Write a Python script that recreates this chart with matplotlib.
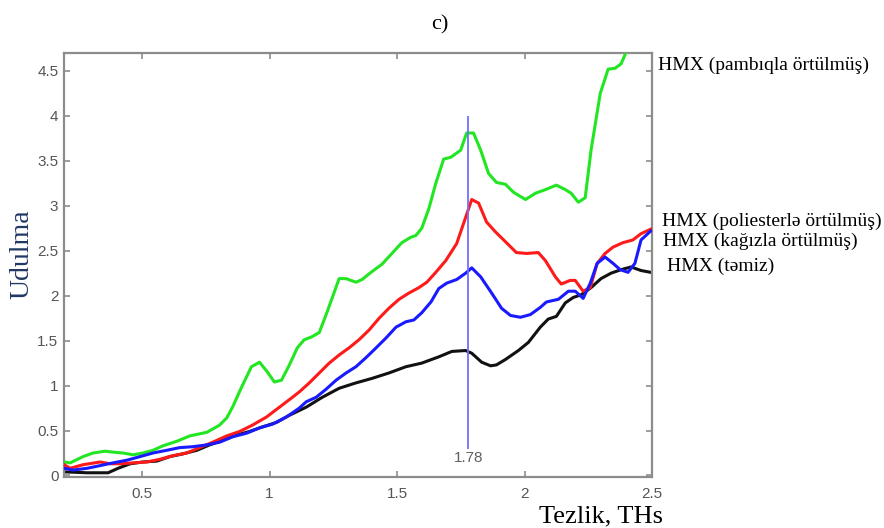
import matplotlib
matplotlib.use("Agg")
import matplotlib.pyplot as plt
import numpy as np

# ---------------- data ----------------
x_cotton = [0.195, 0.218, 0.269, 0.308, 0.355, 0.386, 0.425, 0.465, 0.504, 0.543,
            0.582, 0.636, 0.687, 0.754, 0.804, 0.832, 0.855, 0.890, 0.929, 0.961,
            0.992, 1.019, 1.047, 1.078, 1.109, 1.136, 1.164, 1.195, 1.226, 1.254,
            1.273, 1.300, 1.339, 1.363, 1.398, 1.441, 1.480, 1.519, 1.554, 1.574,
            1.597, 1.625, 1.652, 1.683, 1.711, 1.750, 1.773, 1.800, 1.828, 1.859,
            1.890, 1.925, 1.957, 2.004, 2.043, 2.082, 2.125, 2.160, 2.183, 2.211,
            2.238, 2.261, 2.297, 2.328, 2.355, 2.379, 2.394, 2.42]
y_cotton = [0.15, 0.14, 0.21, 0.25, 0.27, 0.26, 0.25, 0.23, 0.25, 0.28,
            0.33, 0.38, 0.44, 0.48, 0.56, 0.64, 0.76, 0.98, 1.21, 1.26,
            1.15, 1.04, 1.06, 1.23, 1.42, 1.51, 1.54, 1.59, 1.82, 2.04,
            2.19, 2.19, 2.15, 2.18, 2.26, 2.35, 2.47, 2.59, 2.65, 2.67,
            2.75, 2.97, 3.25, 3.52, 3.54, 3.62, 3.81, 3.81, 3.62, 3.36,
            3.26, 3.24, 3.15, 3.07, 3.14, 3.18, 3.23, 3.18, 3.14, 3.04,
            3.09, 3.62, 4.25, 4.52, 4.53, 4.58, 4.68, 4.90]

x_poly = [0.195, 0.218, 0.269, 0.336, 0.375, 0.414, 0.465, 0.519, 0.570, 0.621,
          0.675, 0.726, 0.777, 0.832, 0.883, 0.933, 0.988, 1.039, 1.090, 1.117,
          1.156, 1.195, 1.234, 1.273, 1.312, 1.351, 1.391, 1.430, 1.468, 1.508,
          1.547, 1.586, 1.617, 1.652, 1.691, 1.734, 1.769, 1.793, 1.820, 1.851,
          1.886, 1.929, 1.968, 2.008, 2.054, 2.082, 2.121, 2.144, 2.179, 2.199,
          2.230, 2.258, 2.285, 2.316, 2.347, 2.386, 2.425, 2.457, 2.495]
y_poly = [0.12, 0.08, 0.12, 0.15, 0.13, 0.13, 0.14, 0.15, 0.18, 0.22,
          0.25, 0.31, 0.37, 0.44, 0.49, 0.56, 0.65, 0.76, 0.87, 0.93,
          1.03, 1.14, 1.25, 1.34, 1.42, 1.51, 1.62, 1.75, 1.86, 1.96,
          2.03, 2.09, 2.15, 2.26, 2.39, 2.58, 2.87, 3.07, 3.03, 2.82,
          2.71, 2.59, 2.48, 2.47, 2.48, 2.39, 2.21, 2.13, 2.17, 2.17,
          2.05, 2.09, 2.36, 2.47, 2.54, 2.59, 2.62, 2.69, 2.74]

x_paper = [0.195, 0.230, 0.285, 0.336, 0.386, 0.441, 0.492, 0.543, 0.597, 0.648,
           0.699, 0.754, 0.804, 0.855, 0.910, 0.961, 1.011, 1.066, 1.117, 1.144,
           1.183, 1.222, 1.261, 1.300, 1.339, 1.378, 1.418, 1.457, 1.496, 1.535,
           1.566, 1.597, 1.633, 1.664, 1.695, 1.734, 1.769, 1.793, 1.828, 1.871,
           1.910, 1.945, 1.984, 2.023, 2.062, 2.086, 2.133, 2.172, 2.199, 2.230,
           2.258, 2.285, 2.316, 2.347, 2.375, 2.406, 2.433, 2.457, 2.495]
y_paper = [0.08, 0.06, 0.08, 0.11, 0.14, 0.17, 0.21, 0.25, 0.28, 0.31,
           0.32, 0.34, 0.37, 0.43, 0.47, 0.53, 0.57, 0.65, 0.75, 0.82,
           0.87, 0.96, 1.06, 1.14, 1.21, 1.31, 1.42, 1.53, 1.65, 1.71,
           1.73, 1.81, 1.93, 2.08, 2.14, 2.18, 2.25, 2.31, 2.21, 2.03,
           1.86, 1.78, 1.76, 1.79, 1.87, 1.93, 1.96, 2.05, 2.05, 1.97,
           2.14, 2.36, 2.43, 2.36, 2.29, 2.26, 2.36, 2.62, 2.72]

x_pure = [0.195, 0.285, 0.367, 0.406, 0.453, 0.504, 0.558, 0.609, 0.660, 0.715,
          0.765, 0.816, 0.871, 0.922, 0.972, 1.027, 1.078, 1.144, 1.207, 1.273,
          1.339, 1.402, 1.468, 1.535, 1.597, 1.664, 1.715, 1.769, 1.793, 1.832,
          1.867, 1.890, 1.925, 1.976, 2.015, 2.062, 2.093, 2.125, 2.160, 2.191,
          2.222, 2.261, 2.300, 2.339, 2.379, 2.418, 2.457, 2.495]
y_pure = [0.04, 0.03, 0.03, 0.08, 0.13, 0.15, 0.16, 0.21, 0.24, 0.28,
          0.34, 0.39, 0.45, 0.49, 0.54, 0.59, 0.67, 0.76, 0.87, 0.97,
          1.03, 1.08, 1.14, 1.21, 1.25, 1.32, 1.38, 1.39, 1.36, 1.26,
          1.22, 1.23, 1.29, 1.39, 1.48, 1.65, 1.74, 1.77, 1.92, 1.98,
          2.01, 2.09, 2.19, 2.25, 2.29, 2.32, 2.28, 2.26]

labels = ["HMX (pambıqla örtülmüş)", "HMX (poliesterlə örtülmüş)",
          "HMX (kağızla örtülmüş)", "HMX (təmiz)"]
marker_x = 1.78
marker_top = 4.0
x_ticks = [0.5, 1, 1.5, 2, 2.5]
y_ticks = [0, 0.5, 1, 1.5, 2, 2.5, 3, 3.5, 4, 4.5]

# ---------------- figure ----------------
W, H = 884, 528
fig = plt.figure(figsize=(W / 100, H / 100), dpi=100)
ax = fig.add_axes([64 / W, 1 - 477 / H, (652 - 64) / W, (477 - 53) / H])

lw = 2.2
ax.plot(x_cotton, y_cotton, color="#22e622", lw=lw, zorder=3)
ax.plot(x_poly, y_poly, color="#ff1a1a", lw=lw, zorder=4)
ax.plot(x_paper, y_paper, color="#1a1aff", lw=lw, zorder=5)
ax.plot(x_pure, y_pure, color="#111111", lw=lw, zorder=2)

ax.vlines(marker_x, 0.3, marker_top, color="#6f6fff", lw=1.3, zorder=6)
ax.text(marker_x, 0.19, "1.78", ha="center", va="center", color="#5f5f5f",
        fontsize=11, family="Liberation Sans")

ax.set_xlim(0.194, 2.5)
ax.set_ylim(-0.017, 4.70)
ax.set_xticks(x_ticks)
ax.set_xticklabels(["0.5", "1", "1.5", "2", "2.5"])
ax.set_yticks(y_ticks)
ax.set_yticklabels(["0", "0.5", "1", "1.5", "2", "2.5", "3", "3.5", "4", "4.5"])

spine_c = "#8c8c8c"
for s in ax.spines.values():
    s.set_color(spine_c)
    s.set_linewidth(1.6)
ax.tick_params(direction="in", length=4, width=1.2, color=spine_c,
               labelcolor="#555555", labelsize=11, top=True, right=True,
               pad=4)
ax.tick_params(axis="x", pad=7)
for lab in ax.get_xticklabels() + ax.get_yticklabels():
    lab.set_family("Liberation Sans")

serif = ["Liberation Serif", "DejaVu Serif"]
fig.text(440 / W, 1 - 25 / H, "c)", ha="center", va="center", fontsize=16,
         family=serif, color="black")
fig.text(22 / W, 1 - 254 / H, "Udulma", ha="center", va="center", fontsize=20,
         rotation=90, family=serif, color="#203864")
fig.text(663 / W, 1 - 516 / H, "Tezlik, THs", ha="right", va="center",
         fontsize=19, family=serif, color="black")

label_pos = [(658, 65), (662, 221), (663, 241), (667, 266)]
for txt, (px, py) in zip(labels, label_pos):
    fig.text(px / W, 1 - py / H, txt, ha="left", va="center", fontsize=14,
             family=serif, color="black")

fig.savefig("out.png", dpi=100)
